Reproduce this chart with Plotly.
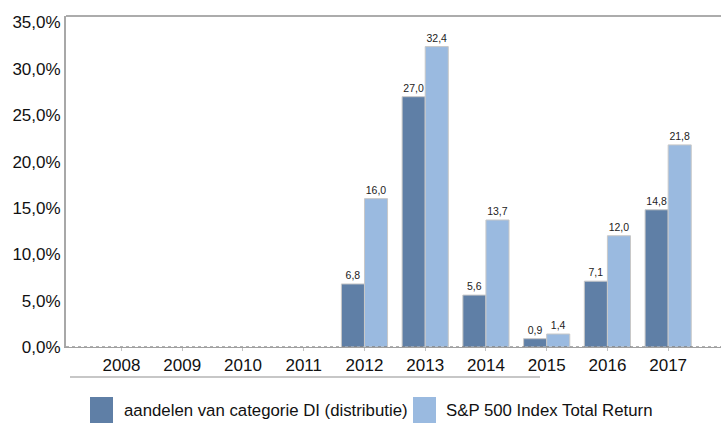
import plotly.graph_objects as go

years = ["2008", "2009", "2010", "2011", "2012", "2013", "2014", "2015", "2016", "2017"]
fund = [None, None, None, None, 6.8, 27.0, 5.6, 0.9, 7.1, 14.8]
sp500 = [None, None, None, None, 16.0, 32.4, 13.7, 1.4, 12.0, 21.8]
names = ["aandelen van categorie DI (distributie)", "S&P 500 Index Total Return"]
colors = ["#5F7FA6", "#9ABAE0"]
ytick_vals = [0, 5, 10, 15, 20, 25, 30, 35]
ytick_text = ["0,0%", "5,0%", "10,0%", "15,0%", "20,0%", "25,0%", "30,0%", "35,0%"]

def lab(v):
    return "" if v is None else f"{v:.1f}".replace(".", ",")

xs = list(range(len(years)))
fig = go.Figure()
for vals, nm, c in zip([fund, sp500], names, colors):
    fig.add_trace(go.Bar(
        x=xs, y=vals, name=nm, marker=dict(color=c, line=dict(color="#C8C8C8", width=1)),
        text=[lab(v) for v in vals], textposition="outside", cliponaxis=False,
        textfont=dict(family="Liberation Sans, Arial", size=10.5, color="#222222"),
        showlegend=False,
    ))

fig.update_layout(
    width=721, height=430,
    margin=dict(l=66, r=0, t=16, b=83, autoexpand=False),
    plot_bgcolor="white", paper_bgcolor="white",
    barmode="group", bargap=0.24, bargroupgap=0,
    font=dict(family="Liberation Sans, Arial", size=17, color="#111111"),
    xaxis=dict(range=[-0.914, 9.87], tickvals=xs, ticktext=years, showgrid=False,
               showline=True, linecolor="#A0A0A0", linewidth=1,
               ticks="outside", ticklen=3, tickcolor="#C0C0C0", zeroline=False,
               tickfont=dict(size=17), automargin=False),
    yaxis=dict(range=[0, 35.7], tickvals=ytick_vals, ticktext=ytick_text,
               showgrid=False, showline=True, linecolor="#A8A8A8", linewidth=2,
               zeroline=False, ticks="", tickfont=dict(size=17), automargin=False),
)
# top frame line
fig.add_shape(type="line", xref="paper", yref="paper", x0=0, x1=1, y0=1, y1=1,
              line=dict(color="#909090", width=1.5))
# dotted baseline
fig.add_shape(type="line", xref="paper", yref="y", x0=0, x1=1, y0=0, y1=0,
              line=dict(color="#606060", width=1, dash="dot"))

pw, ph = 655, 331
def px(x):
    return (x - 66) / pw
def py(y):
    return (347 - y) / ph

# line below category labels
fig.add_shape(type="line", xref="paper", yref="paper", x0=px(70), x1=px(540),
              y0=py(377), y1=py(377), line=dict(color="#909090", width=1.2))

# custom legend
leg = [(90, 113, 122, names[0], colors[0]), (413, 436, 444, names[1], colors[1])]
for x0, x1, tx, nm, c in leg:
    fig.add_shape(type="rect", xref="paper", yref="paper", x0=px(x0), x1=px(x1),
                  y0=py(423), y1=py(397), fillcolor=c, line=dict(width=0))
    fig.add_annotation(xref="paper", yref="paper", x=px(tx), y=py(410), text=nm,
                       showarrow=False, xanchor="left", yanchor="middle",
                       font=dict(size=16.8, color="#111111"))

fig.write_html("out.html", config={"displayModeBar": False},
               post_script="document.body.style.margin='0';document.body.style.padding='0';")
